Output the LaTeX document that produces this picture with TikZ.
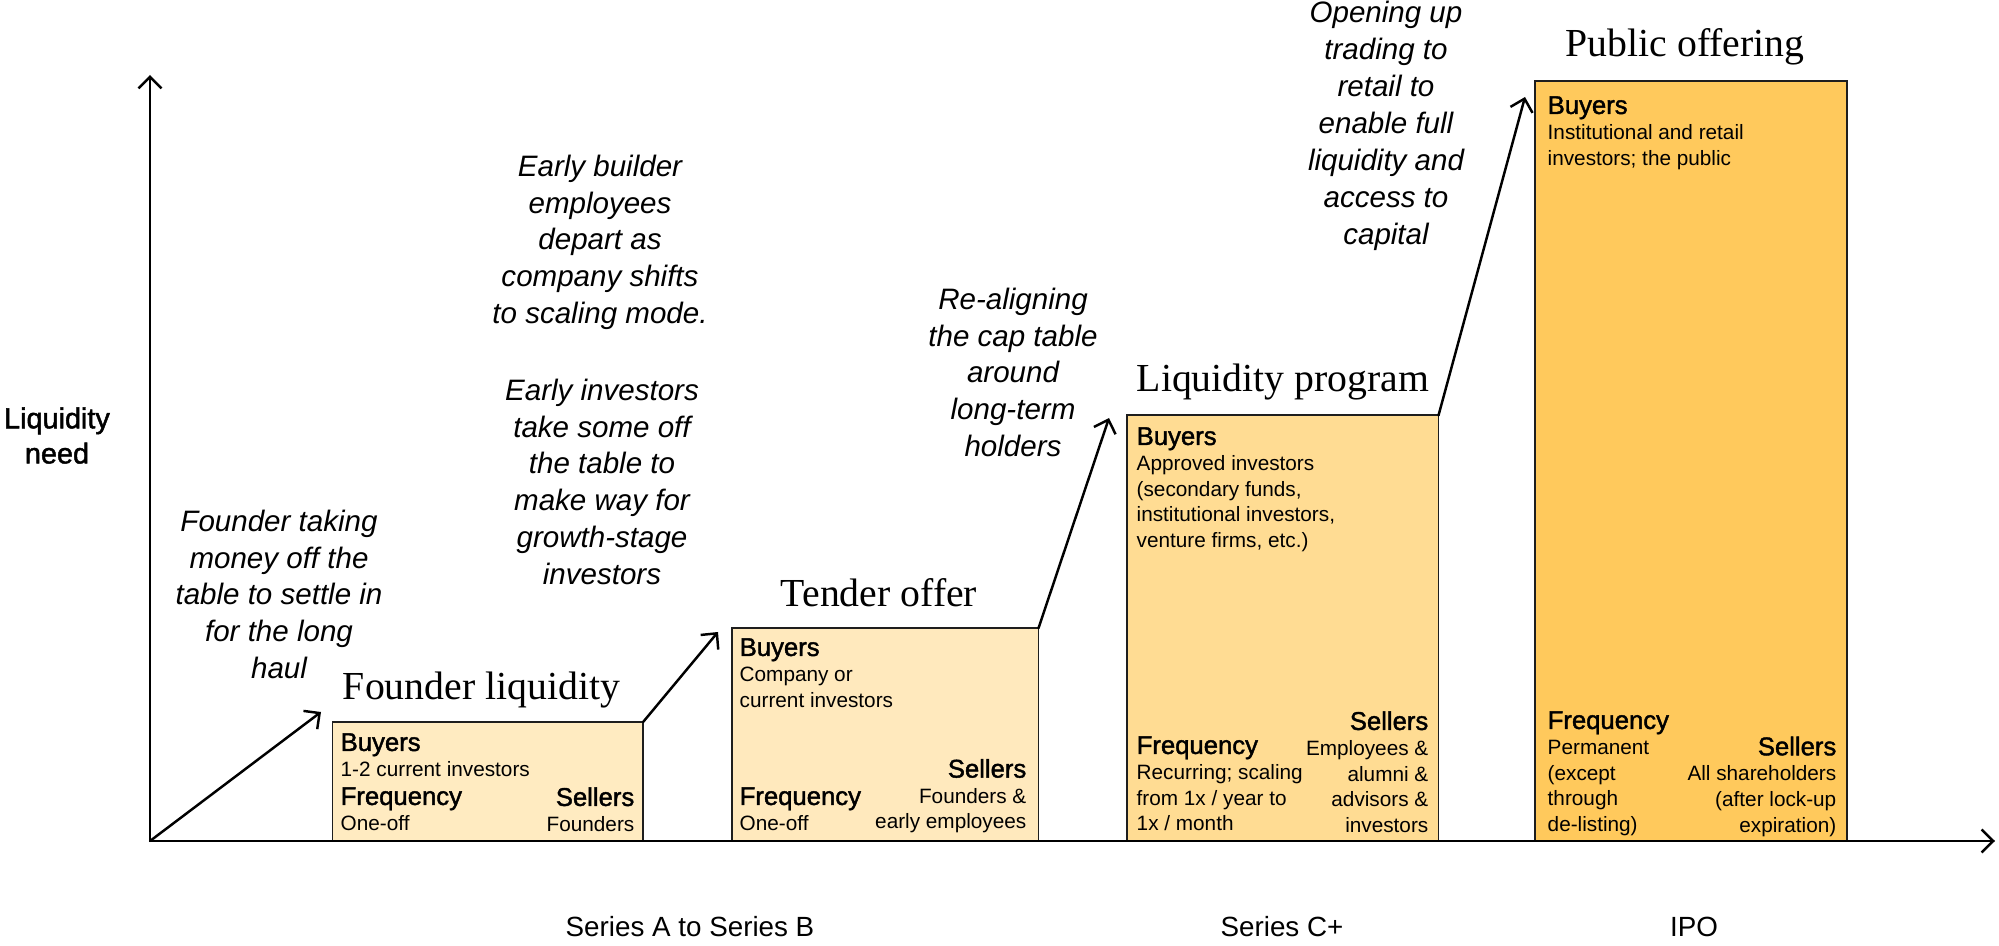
\documentclass[tikz,border=0pt]{standalone}
\usepackage{fontspec}
\setmainfont{Liberation Sans}
\newfontfamily\serifhead{Liberation Serif}
\newfontfamily\medsans{Liberation Sans}[FakeBold=1.6]
\usetikzlibrary{arrows.meta}

\definecolor{founderfill}{HTML}{FFEBC1}
\definecolor{tenderfill}{HTML}{FFE9BD}
\definecolor{programfill}{HTML}{FFDC93}
\definecolor{publicfill}{HTML}{FFC95C}
\definecolor{edgegray}{HTML}{1E1E1E}

\newcommand\notefont{\fontsize{8.4}{10.5}\selectfont\itshape}
\newcommand\headfont{\medsans\fontsize{7.3}{7.4}\selectfont}
\newcommand\bodyfont{\fontsize{5.9}{7.3}\selectfont}

\tikzset{
  stagebox/.style={draw=edgegray, line width=0.55pt, anchor=south west, inner sep=0pt, outer sep=0pt},
  stagetitle/.style={font=\serifhead\fontsize{11.3}{13}\selectfont, anchor=base, inner sep=0pt},
  boxnote/.style={font=\bodyfont, inner sep=0pt, align=left, anchor=north west},
  boxnoteR/.style={font=\bodyfont, inner sep=0pt, align=right, anchor=north east},
  sidenote/.style={font=\notefont, align=center, anchor=north, inner sep=0pt},
  axislabel/.style={font=\fontsize{7.9}{9.5}\selectfont, anchor=base, inner sep=0pt},
  step line/.style={->, line width=0.7pt}
}

\begin{document}
\begin{tikzpicture}[x=0.01cm, y=-0.01cm, >={Straight Barb[length=3.3pt,width=6.5pt]}, line cap=round]
    \useasboundingbox (0,0) rectangle (1999,946);

    % the four stages, bottoms on the axis
    \node[stagebox, fill=founderfill, minimum width=3.105cm, minimum height=1.19cm] (founder) at (332.5,841) {};
    \node[stagebox, fill=tenderfill, minimum width=3.066cm, minimum height=2.127cm] (tender) at (731.7,841) {};
    \node[stagebox, fill=programfill, minimum width=3.113cm, minimum height=4.253cm] (program) at (1127,841) {};
    \node[stagebox, fill=publicfill, minimum width=3.117cm, minimum height=7.6cm] (public) at (1535,841) {};

    \node[stagetitle] (founderT) at (481.5,700) {Founder liquidity};
    \node[stagetitle] (tenderT) at (879,607) {Tender offer};
    \node[stagetitle] (programT) at (1283,392) {Liquidity program};
    \node[stagetitle] (publicT) at (1685,57) {Public offering};

    % box texts
    \node[boxnote] (founderB) at (340,732.6) {{\headfont Buyers}\\1-2 current investors};
    \node[boxnote] (founderF) at (340,786.6) {{\headfont Frequency}\\One-off};
    \node[boxnoteR] (founderS) at (635,786.6) {{\headfont Sellers}\\Founders};

    \node[boxnote] (tenderB) at (739,637.6) {{\headfont Buyers}\\Company or\\current investors};
    \node[boxnote] (tenderF) at (739,786.6) {{\headfont Frequency}\\One-off};
    \node[boxnoteR] (tenderS) at (1027,758.3) {{\headfont Sellers}\\Founders \&\\early employees};

    \node[boxnote] (programB) at (1136,426.6) {{\headfont Buyers}\\Approved investors\\(secondary funds,\\institutional investors,\\venture firms, etc.)};
    \node[boxnote] (programF) at (1136,735.6) {{\headfont Frequency}\\Recurring; scaling\\from 1x / year to\\1x / month};
    \node[boxnoteR] (programS) at (1429,710.6) {{\headfont Sellers}\\Employees \&\\alumni \&\\advisors \&\\investors};

    \node[boxnote] (publicB) at (1547,95.6) {{\headfont Buyers}\\Institutional and retail\\investors; the public};
    \node[boxnote] (publicF) at (1547,710.6) {{\headfont Frequency}\\Permanent\\(except\\through\\de-listing)};
    \node[boxnoteR] (publicS) at (1837,736) {{\headfont Sellers}\\All shareholders\\(after lock-up\\expiration)};

    % notes
    \node[sidenote] (noteA) at (279,509) {Founder taking\\money off the\\table to settle in\\for the long\\haul};
    \node[sidenote] (noteB) at (600,154) {Early builder\\employees\\depart as\\company shifts\\to scaling mode.};
    \node[sidenote] (noteC) at (602,378) {Early investors\\take some off\\the table to\\make way for\\growth-stage\\investors};
    \node[sidenote] (noteD) at (1013,287) {Re-aligning\\the cap table\\around\\long-term\\holders};
    \node[sidenote] (noteE) at (1386,0.5) {Opening up\\trading to\\retail to\\enable full\\liquidity and\\access to\\capital};

    % axes
    \coordinate (origin) at (150,841);
    \coordinate (ytop) at (150,75);
    \coordinate (xend) at (1995,841);
    \draw[step line] (origin) -- (ytop);
    \draw[step line] (origin) -- (xend);

    \node[font=\medsans\fontsize{8.2}{10}\selectfont, align=center, anchor=north, inner sep=0pt] (need) at (57,406.7) {Liquidity\\need};
    \node[axislabel] (seriesAB) at (690,936) {Series A to Series B};
    \node[axislabel] (seriesC) at (1282,936) {Series C+};
    \node[axislabel] (ipo) at (1694,936) {IPO};

    % steps between stages
    \coordinate (tipA) at (321,712);
    \coordinate (tipB) at (718,632);
    \coordinate (tipC) at (1109,418);
    \coordinate (tipD) at (1525,97);
    \draw[step line] (origin) -- (tipA);
    \draw[step line] (founder.north east) -- (tipB);
    \draw[step line] (tender.north east) -- (tipC);
    \draw[step line] (program.north east) -- (tipD);
\end{tikzpicture}
\end{document}
